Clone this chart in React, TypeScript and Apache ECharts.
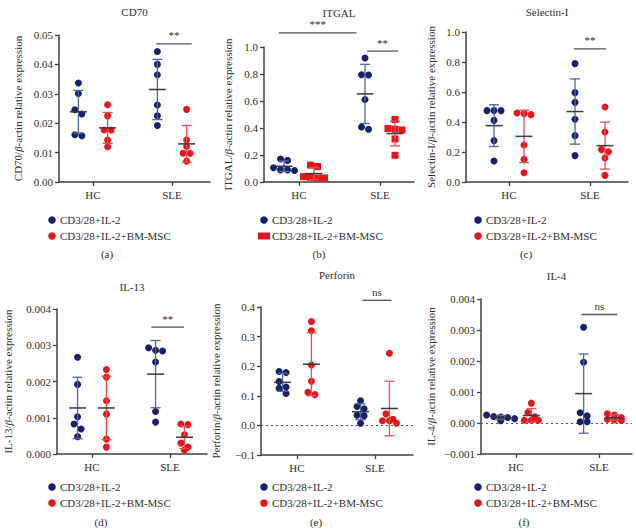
import React, { useEffect, useRef } from "react";
import * as echarts from "echarts";

// ---------- data ----------
const categories = ["HC", "SLE"];
const seriesNames = ["CD3/28+IL-2", "CD3/28+IL-2+BM-MSC"];
const captions = ["(a)", "(b)", "(c)", "(d)", "(e)", "(f)"];
const titles = ["CD70", "ITGAL", "Selectin-I", "IL-13", "Perforin", "IL-4"];

const cd70HcBlue = [0.0337, 0.0301, 0.0246, 0.0231, 0.0157, 0.0161];
const cd70HcRed = [0.0263, 0.0225, 0.0177, 0.0177, 0.0143, 0.012];
const cd70SleBlue = [0.0444, 0.04, 0.0365, 0.0262, 0.0225, 0.0192];
const cd70SleRed = [0.0247, 0.0143, 0.0121, 0.0098, 0.0098, 0.0071];

const itgalHcBlue = [0.17, 0.16, 0.105, 0.09, 0.09, 0.085];
const itgalHcRed = [0.125, 0.115, 0.04, 0.035, 0.03, 0.03];
const itgalSleBlue = [0.918, 0.795, 0.792, 0.611, 0.408, 0.391];
const itgalSleRed = [0.463, 0.396, 0.391, 0.386, 0.319, 0.198];

const selHcBlue = [0.476, 0.476, 0.476, 0.411, 0.276, 0.14];
const selHcRed = [0.46, 0.456, 0.449, 0.247, 0.151, 0.062];
const selSleBlue = [0.789, 0.596, 0.531, 0.418, 0.309, 0.176];
const selSleRed = [0.5, 0.333, 0.216, 0.202, 0.16, 0.044];

const il13HcBlue = [0.00267, 0.00192, 0.00103, 0.00083, 0.00069, 0.00048];
const il13HcRed = [0.00233, 0.00212, 0.00147, 0.0011, 0.00041, 0.00019];
const il13SleBlue = [0.00293, 0.00286, 0.00284, 0.00254, 0.00117, 0.00088];
const il13SleRed = [0.00083, 0.00081, 0.00053, 0.0003, 0.00019, 0.00011];

const perfHcBlue = [0.182, 0.179, 0.148, 0.13, 0.125, 0.108];
const perfHcRed = [0.351, 0.32, 0.204, 0.149, 0.112, 0.104];
const perfSleBlue = [0.083, 0.064, 0.056, 0.034, 0.033, 0.007];
const perfSleRed = [0.244, 0.039, 0.021, 0.016, 0.016, 0.007];

const il4HcBlue = [0.00026, 0.00021, 0.00019, 0.00018, 0.00014, 0.00007];
const il4HcRed = [0.00064, 0.00034, 0.0002, 0.00009, 0.00009, 0.00009];
const il4SleBlue = [0.00309, 0.00196, 0.00033, 0.00023, 0.00004, 0.00004];
const il4SleRed = [0.0003, 0.00026, 0.00018, 0.00012, 0.0001, 0.00008];

// significance brackets: [x from, x to (axis units, HC = 1, SLE = 2), y, label]
const cd70Brackets: [number, number, number, string][] = [[1.8, 2.25, 0.047, "**"]];
const itgalBrackets: [number, number, number, string][] = [
  [0.75, 1.71, 1.104, "***"],
  [1.84, 2.22, 0.97, "**"],
];
const selBrackets: [number, number, number, string][] = [[1.8, 2.2, 0.887, "**"]];
const il13Brackets: [number, number, number, string][] = [[1.76, 2.18, 0.0035, "**"]];
const perfBrackets: [number, number, number, string][] = [[1.84, 2.21, 0.4226, "ns"]];
const il4Brackets: [number, number, number, string][] = [[1.79, 2.22, 0.0035, "ns"]];

// y axes: [min, max, interval, decimals]
const cd70Y = [0, 0.05, 0.01, 2];
const itgalY = [0, 1.0, 0.2, 1];
const selY = [0, 1.0, 0.2, 1];
const il13Y = [0, 0.004, 0.001, 3];
const perfY = [-0.1, 0.4, 0.1, 1];
const il4Y = [-0.001, 0.004, 0.001, 3];

// ---------- styles / layout ----------
const FONT = "'Liberation Serif', serif";
const FS = 11;
const BLUE = "#15216c";
const RED = "#e3161d";
const BAR_BLUE = "#55639e";
const BAR_RED = "#eb4b51";
const MEAN = "#3a3a3a";
const AXIS = "#404040";
const TEXT = "#2e2e2e";
const COL_OFF = 0.185;

type Panel = {
  values: number[][];
  y: number[];
  brackets: [number, number, number, string][];
  redSymbol: string;
  zero: boolean;
  box: number[]; // left, top, right, bottom (px)
  ticks: number[]; // HC px, SLE px
  nameGap: number;
  titleY: number;
  caption: number[]; // x, y
  legend: number[]; // x, y
};

const panels: Panel[] = [
  {
    values: [cd70HcBlue, cd70HcRed, cd70SleBlue, cd70SleRed],
    y: cd70Y, brackets: cd70Brackets, redSymbol: "circle", zero: false,
    box: [59, 35, 210, 182], ticks: [93, 172], nameGap: 36, titleY: 12,
    caption: [107, 254], legend: [52, 220],
  },
  {
    values: [itgalHcBlue, itgalHcRed, itgalSleBlue, itgalSleRed],
    y: itgalY, brackets: itgalBrackets, redSymbol: "rect", zero: false,
    box: [264, 47, 414, 182], ticks: [299, 380], nameGap: 31, titleY: 13,
    caption: [319, 254], legend: [264, 220],
  },
  {
    values: [selHcBlue, selHcRed, selSleBlue, selSleRed],
    y: selY, brackets: selBrackets, redSymbol: "circle", zero: false,
    box: [466, 32, 628, 182], ticks: [509, 590], nameGap: 30, titleY: 12,
    caption: [526, 254], legend: [478, 220],
  },
  {
    values: [il13HcBlue, il13HcRed, il13SleBlue, il13SleRed],
    y: il13Y, brackets: il13Brackets, redSymbol: "circle", zero: false,
    box: [57, 309, 207, 454], ticks: [92, 170], nameGap: 44, titleY: 287,
    caption: [101, 522], legend: [52, 487],
  },
  {
    values: [perfHcBlue, perfHcRed, perfSleBlue, perfSleRed],
    y: perfY, brackets: perfBrackets, redSymbol: "circle", zero: true,
    box: [261, 307, 413, 455], ticks: [297, 375], nameGap: 40, titleY: 275,
    caption: [316, 522], legend: [264, 487],
  },
  {
    values: [il4HcBlue, il4HcRed, il4SleBlue, il4SleRed],
    y: il4Y, brackets: il4Brackets, redSymbol: "circle", zero: true,
    box: [481, 299, 632, 454], ticks: [516, 599], nameGap: 45, titleY: 276,
    caption: [524, 522], legend: [478, 487],
  },
];

function meanSd(a: number[]) {
  const m = a.reduce((s, v) => s + v, 0) / a.length;
  const v = a.reduce((s, x) => s + (x - m) * (x - m), 0) / (a.length - 1);
  return [m, Math.sqrt(v)];
}

// Prism-like row spreading of points with similar values
function swarm(values: number[], center: number, pxPerY: number, pxPerX: number) {
  const idx = values.map((_, i) => i).sort((a, b) => values[b] - values[a]);
  const rows: number[][] = [];
  let cur: number[] = [];
  let start = 0;
  for (const i of idx) {
    if (cur.length && (start - values[i]) * pxPerY < 5.5) cur.push(i);
    else {
      if (cur.length) rows.push(cur);
      cur = [i];
      start = values[i];
    }
  }
  if (cur.length) rows.push(cur);
  const out: number[][] = new Array(values.length);
  rows.forEach((r) =>
    r.forEach((i, k) => {
      const off = ((k - (r.length - 1) / 2) * 7) / pxPerX;
      out[i] = [center + off, values[i]];
    })
  );
  return out;
}

function fmt(v: number, d: number) {
  if (Math.abs(v) < 1e-12) v = 0;
  return v < 0 ? "\u2212" + Math.abs(v).toFixed(d) : v.toFixed(d);
}

function txt(text: string, x: number, y: number, align: string) {
  return {
    type: "text",
    x,
    y,
    style: {
      text,
      fill: TEXT,
      font: `${FS}px ${FONT}`,
      align,
      verticalAlign: "middle",
    },
  };
}

export default function App() {
  const ref = useRef<HTMLDivElement>(null);
  useEffect(() => {
    const chart = echarts.init(ref.current!, null, { renderer: "svg" });
    const grid: any[] = [];
    const xAxis: any[] = [];
    const yAxis: any[] = [];
    const series: any[] = [];
    const graphic: any[] = [];

    panels.forEach((p, i) => {
      const [L, T, R, B] = p.box;
      const [hcPx, slePx] = p.ticks;
      const unit = slePx - hcPx;
      const xMin = 1 - (hcPx - L) / unit;
      const xMax = 1 + (R - hcPx) / unit;
      const [yMin, yMax, yInt, dec] = p.y;
      const pxPerY = (B - T) / (yMax - yMin);

      grid.push({ left: L, top: T, width: R - L, height: B - T });
      xAxis.push({
        gridIndex: i,
        type: "value",
        min: xMin,
        max: xMax,
        axisLine: { onZero: false, lineStyle: { color: AXIS, width: 1.5 } },
        axisTick: { show: true, customValues: [1, 2], length: 4, lineStyle: { color: AXIS, width: 1.3 } },
        axisLabel: {
          customValues: [1, 2],
          formatter: (v: number) => categories[Math.round(v) - 1],
          fontFamily: FONT,
          fontSize: FS,
          color: TEXT,
          margin: 7,
        },
        splitLine: { show: false },
      });
      yAxis.push({
        gridIndex: i,
        type: "value",
        min: yMin,
        max: yMax,
        interval: yInt,
        name: `{n|${titles[i]}/}{g|β}{n|-actin relative expression}`,
        nameLocation: "middle",
        nameRotate: 90,
        nameGap: p.nameGap,
        nameTextStyle: {
          fontFamily: FONT,
          fontSize: FS,
          color: TEXT,
          rich: {
            n: { fontFamily: FONT, fontSize: FS, color: TEXT },
            g: { fontFamily: FONT, fontSize: FS, color: TEXT, fontStyle: "italic" },
          },
        },
        axisLine: { show: true, onZero: false, lineStyle: { color: AXIS, width: 1.5 } },
        axisTick: { show: true, length: 4, lineStyle: { color: AXIS, width: 1.3 } },
        axisLabel: {
          formatter: (v: number) => fmt(v, dec),
          fontFamily: FONT,
          fontSize: FS,
          color: TEXT,
          margin: 6,
        },
        splitLine: { show: false },
      });

      const [hcB, hcR, sleB, sleR] = p.values;
      const blueData = [
        ...swarm(hcB, 1 - COL_OFF, pxPerY, unit),
        ...swarm(sleB, 2 - COL_OFF, pxPerY, unit),
      ];
      const redData = [
        ...swarm(hcR, 1 + COL_OFF, pxPerY, unit),
        ...swarm(sleR, 2 + COL_OFF, pxPerY, unit),
      ];

      const blueSeries: any = {
        type: "scatter",
        name: seriesNames[0],
        xAxisIndex: i,
        yAxisIndex: i,
        data: blueData,
        symbol: "circle",
        symbolSize: 7,
        itemStyle: { color: BLUE, opacity: 1 },
        z: 3,
      };
      if (p.zero) {
        blueSeries.markLine = {
          silent: true,
          symbol: ["none", "none"],
          label: { show: false },
          lineStyle: { type: [2, 3], color: "#555", width: 1.2 },
          data: [{ yAxis: 0 }],
          z: 1,
        };
      }
      series.push(blueSeries);
      series.push({
        type: "scatter",
        name: seriesNames[1],
        xAxisIndex: i,
        yAxisIndex: i,
        data: redData,
        symbol: p.redSymbol,
        symbolSize: 7,
        itemStyle: { color: RED, opacity: 1 },
        z: 3,
      });

      const groups = [
        [1 - COL_OFF, ...meanSd(hcB), 0],
        [1 + COL_OFF, ...meanSd(hcR), 1],
        [2 - COL_OFF, ...meanSd(sleB), 0],
        [2 + COL_OFF, ...meanSd(sleR), 1],
      ];
      series.push({
        type: "custom",
        xAxisIndex: i,
        yAxisIndex: i,
        data: groups,
        z: 4,
        silent: true,
        renderItem: (_params: any, api: any) => {
          const x = api.value(0);
          const m = api.value(1);
          const s = api.value(2);
          const c = api.value(3) === 0 ? BAR_BLUE : BAR_RED;
          const top = api.coord([x, m + s]);
          const bot = api.coord([x, m - s]);
          const mid = api.coord([x, m]);
          const cw = 5;
          const mw = 8.5;
          return {
            type: "group",
            children: [
              { type: "line", shape: { x1: top[0], y1: top[1], x2: bot[0], y2: bot[1] }, style: { stroke: c, lineWidth: 1.3 } },
              { type: "line", shape: { x1: top[0] - cw, y1: top[1], x2: top[0] + cw, y2: top[1] }, style: { stroke: c, lineWidth: 1.3 } },
              { type: "line", shape: { x1: bot[0] - cw, y1: bot[1], x2: bot[0] + cw, y2: bot[1] }, style: { stroke: c, lineWidth: 1.3 } },
              { type: "line", shape: { x1: mid[0] - mw, y1: mid[1], x2: mid[0] + mw, y2: mid[1] }, style: { stroke: MEAN, lineWidth: 1.5 } },
            ],
          };
        },
      });

      series.push({
        type: "custom",
        xAxisIndex: i,
        yAxisIndex: i,
        data: p.brackets.map((b) => [b[0], b[1], b[2]]),
        z: 4,
        silent: true,
        clip: false,
        renderItem: (params: any, api: any) => {
          const a = api.coord([api.value(0), api.value(2)]);
          const b = api.coord([api.value(1), api.value(2)]);
          const label = p.brackets[params.dataIndex][3];
          return {
            type: "group",
            children: [
              { type: "line", shape: { x1: a[0], y1: a[1], x2: b[0], y2: b[1] }, style: { stroke: "#555", lineWidth: 1.3 } },
              {
                type: "text",
                x: (a[0] + b[0]) / 2,
                y: a[1] - 3,
                style: {
                  text: label,
                  fill: TEXT,
                  font: `${FS}px ${FONT}`,
                  align: "center",
                  verticalAlign: "bottom",
                },
              },
            ],
          };
        },
      });

      graphic.push(txt(titles[i], (L + R) / 2, p.titleY, "center"));
      graphic.push(txt(captions[i], p.caption[0], p.caption[1], "center"));
      const [lx, ly] = p.legend;
      graphic.push({ type: "circle", shape: { cx: lx, cy: ly, r: 3.8 }, style: { fill: BLUE } });
      if (p.redSymbol === "rect") {
        graphic.push({ type: "rect", shape: { x: lx - 6, y: ly + 16 - 3.5, width: 12, height: 7 }, style: { fill: RED } });
      } else {
        graphic.push({ type: "circle", shape: { cx: lx, cy: ly + 16, r: 3.8 }, style: { fill: RED } });
      }
      seriesNames.forEach((n, k) => graphic.push(txt(n, lx + 8, ly + 16 * k, "left")));
    });

    chart.setOption({
      animation: false,
      backgroundColor: "#ffffff",
      textStyle: { fontFamily: FONT },
      grid,
      xAxis,
      yAxis,
      series,
      graphic,
    });
    return () => chart.dispose();
  }, []);

  return (
    <div
      ref={ref}
      style={{ position: "fixed", left: 0, top: 0, width: 636, height: 531, background: "#fff" }}
    />
  );
}
